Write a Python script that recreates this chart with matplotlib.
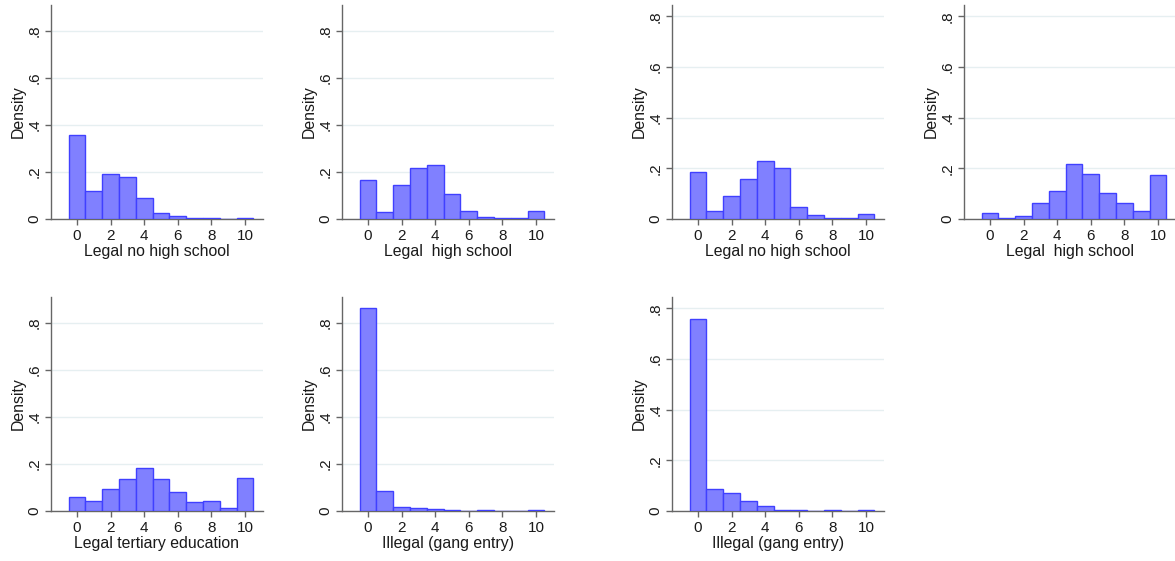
import matplotlib
matplotlib.use("Agg")
import matplotlib.pyplot as plt
import numpy as np

plt.rcParams['font.family'] = ['Liberation Sans', 'DejaVu Sans']

# bin centres and histogram densities
bins = [0, 1, 2, 3, 4, 5, 6, 7, 8, 9, 10]

left_nohs = [0.359, 0.118, 0.191, 0.180, 0.089, 0.027, 0.011, 0.004, 0.003, 0.0, 0.005]
left_hs = [0.166, 0.031, 0.145, 0.216, 0.231, 0.106, 0.035, 0.009, 0.004, 0.003, 0.034]
left_tert = [0.061, 0.043, 0.094, 0.138, 0.184, 0.138, 0.082, 0.040, 0.044, 0.011, 0.139]
left_illegal = [0.864, 0.084, 0.016, 0.011, 0.007, 0.003, 0.0, 0.003, 0.0, 0.0, 0.003]

right_nohs = [0.184, 0.033, 0.089, 0.158, 0.230, 0.201, 0.047, 0.017, 0.004, 0.002, 0.020]
right_hs = [0.025, 0.005, 0.011, 0.064, 0.112, 0.217, 0.179, 0.103, 0.063, 0.033, 0.174]
right_illegal = [0.757, 0.088, 0.071, 0.039, 0.021, 0.003, 0.003, 0.0, 0.003, 0.0, 0.003]

xlabels = ["Legal no high school", "Legal  high school", "Legal tertiary education",
           "Illegal (gang entry)"]

W, H = 1175, 561
fig = plt.figure(figsize=(W / 100, H / 100), dpi=100)
fig.patch.set_facecolor('white')


def panel(left, top, right, bottom, vals, label, ytop):
    ax = fig.add_axes([left / W, 1 - bottom / H, (right - left) / W, (bottom - top) / H])
    ax.bar(bins, vals, width=1.0, color='#8080ff', edgecolor='#4040ff', linewidth=1.0, zorder=3)
    ax.set_xlim(-1.55, 11.07)
    ax.set_ylim(0, ytop)
    ax.set_yticks([0, 0.2, 0.4, 0.6, 0.8])
    ax.set_yticklabels(["0", ".2", ".4", ".6", ".8"], rotation=90, va='center')
    ax.set_xticks([0, 2, 4, 6, 8, 10])
    ax.grid(axis='y', color='#e6eff1', linewidth=1.0, zorder=0)
    for s in ['top', 'right']:
        ax.spines[s].set_visible(False)
    for s in ['left', 'bottom']:
        ax.spines[s].set_color('#666666')
        ax.spines[s].set_linewidth(1.0)
    ax.tick_params(colors='#666666', labelcolor='#1a1a1a', labelsize=11, length=4, width=1, pad=3)
    ax.set_xlabel(label, fontsize=11.4, color='#1a1a1a', labelpad=1)
    ax.set_ylabel("Density", fontsize=11.4, color='#1a1a1a', labelpad=1)
    return ax


# left group
panel(51, 5, 263, 219, left_nohs, xlabels[0], 0.91)
panel(342, 5, 554, 219, left_hs, xlabels[1], 0.91)
panel(51, 297, 263, 511, left_tert, xlabels[2], 0.91)
panel(342, 297, 554, 511, left_illegal, xlabels[3], 0.91)

# right group
panel(672, 5, 884, 219, right_nohs, xlabels[0], 0.845)
panel(964, 5, 1176, 219, right_hs, xlabels[1], 0.845)
panel(672, 297, 884, 511, right_illegal, xlabels[3], 0.845)

fig.savefig("out.png", dpi=100, facecolor='white')
